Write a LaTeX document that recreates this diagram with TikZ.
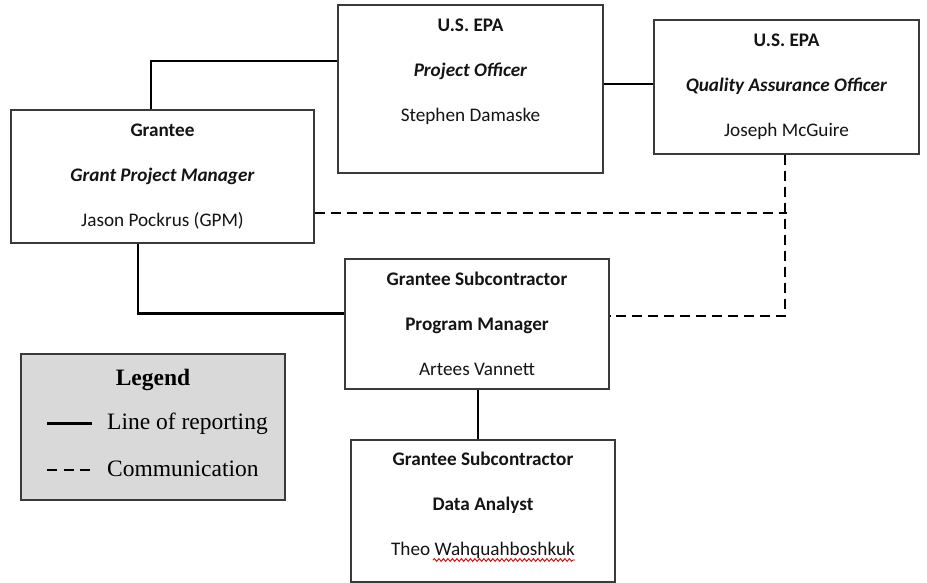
\documentclass[tikz,border=0pt]{standalone}
\usepackage{fontspec}
\setmainfont{Carlito}
\newfontfamily\legendfont{Liberation Serif}
\usetikzlibrary{decorations.pathmorphing}
\definecolor{boxgray}{HTML}{3A3A3A}
\definecolor{legfill}{HTML}{D9D9D9}
\definecolor{txt}{HTML}{141414}
\begin{document}
\begin{tikzpicture}[x=1pt,y=-1pt,
  orgbox/.style={draw=boxgray, line width=1.3pt, fill=white, inner sep=0pt},
  boxtext/.style={anchor=north, inner sep=0pt, align=center, text=txt,
    font=\fontsize{19.2}{45}\selectfont},
  conn/.style={line width=2.2pt, black},
  comm/.style={line width=2.2pt, black, dash pattern=on 10pt off 6pt},
  legtext/.style={anchor=base west, inner sep=0pt, text=black,
    font=\legendfont\fontsize{23.5}{28}\selectfont}
]
\useasboundingbox (0,0) rectangle (927,583);

% boxes
\node[orgbox, minimum width=303pt, minimum height=133pt] (g)  at (162.5,176.5) {};
\node[orgbox, minimum width=265pt, minimum height=168pt] (po) at (470.5,89) {};
\node[orgbox, minimum width=265pt, minimum height=134pt] (qa) at (786.5,87) {};
\node[orgbox, minimum width=264pt, minimum height=130pt] (pm) at (477,324) {};
\node[orgbox, minimum width=264pt, minimum height=142pt] (da) at (483,511) {};

% connectors
\draw[conn] ([xshift=-11.5pt]g.north) |- ([yshift=28pt]po.west);
\coordinate (c1) at ([yshift=5pt]po.east);
\draw[conn] (c1) -- (c1 -| qa.west);
\draw[conn] ([xshift=-24.5pt]g.south) |- ([yshift=10.5pt]pm.west);
\draw[comm] ([xshift=-1.5pt]qa.south) |- ([yshift=8pt]pm.east);
\coordinate (c2) at ([yshift=-36.5pt]g.east);
\draw[comm] (c2) -- (c2 -| qa.south);
\draw[conn] ([xshift=1pt]pm.south) -- ([xshift=1pt]pm.south |- da.north);

% box texts
\node[boxtext] (gt) at ([yshift=-12.5pt]g.north)
  {\rule{0pt}{14pt}\textbf{Grantee}\\ \textbf{\textit{Grant Project Manager}}\\ Jason Pockrus (GPM)};
\node[boxtext] (pot) at ([yshift=-12.5pt]po.north)
  {\rule{0pt}{14pt}\textbf{U.S. EPA}\\ \textbf{\textit{Project Officer}}\\ Stephen Damaske};
\node[boxtext] (qat) at ([yshift=-12.5pt]qa.north)
  {\rule{0pt}{14pt}\textbf{U.S. EPA}\\ \textbf{\textit{Quality Assurance Officer}}\\ Joseph McGuire};
\node[boxtext] (pmt) at ([yshift=-12.5pt]pm.north)
  {\rule{0pt}{14pt}\textbf{Grantee Subcontractor}\\ \textbf{Program Manager}\\ Artees Vannett};
\node[boxtext] (dat) at ([yshift=-11.5pt]da.north)
  {\rule{0pt}{14pt}\textbf{Grantee Subcontractor}\\ \textbf{Data Analyst}\\ Theo Wahquahboshkuk};

% spell-check squiggle
\coordinate (sq1) at (433,560);
\coordinate (sq2) at (575,560);
\draw[red!90!black, line width=0.9pt, decorate,
  decoration={snake, amplitude=1.4pt, segment length=4.5pt}] (sq1) -- (sq2);

% legend
\node[draw=boxgray, line width=1.3pt, fill=legfill, inner sep=0pt,
  minimum width=264pt, minimum height=146pt] (lg) at (153,427) {};
\node[anchor=base, inner sep=0pt, font=\legendfont\bfseries\fontsize{23.5}{28}\selectfont]
  (lgt) at (153,385) {Legend};
\coordinate (l1a) at (47,423.5);
\coordinate (l1b) at (92,423.5);
\draw[conn] (l1a) -- (l1b);
\coordinate (l2a) at (47,470);
\coordinate (l2b) at (95,470);
\draw[line width=2.2pt, black, dash pattern=on 10pt off 6.5pt] (l2a) -- (l2b);
\node[legtext] (lt1) at (107,429) {Line of reporting};
\node[legtext] (lt2) at (107,476) {Communication};
\end{tikzpicture}
\end{document}
